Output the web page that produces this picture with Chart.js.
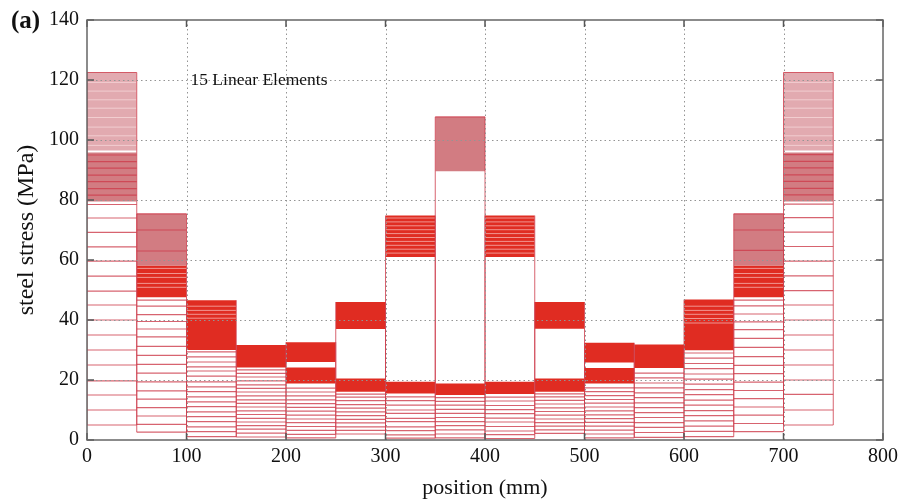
<!DOCTYPE html>
<html>
<head>
<meta charset="utf-8">
<script src="https://cdn.jsdelivr.net/npm/chart.js@4.4.1/dist/chart.umd.min.js"></script>
<style>
  html, body { margin: 0; padding: 0; background: #fff; }
  #wrap { width: 918px; height: 504px; }
</style>
</head>
<body>
<div id="wrap"><canvas id="stress" width="918" height="504"></canvas></div>
<script>
// 15 linear elements, 50 mm each
const elementStart = [0, 50, 100, 150, 200, 250, 300, 350, 400, 450, 500, 550, 600, 650, 700];
const elementLength = 50;

// stress of each computed step, per element (MPa)
const stepStress = [
  [5, 10, 15, 19.7, 25, 30, 35, 40, 45, 49.6, 54.6, 59.6, 64.4, 69.2, 74, 78.5, 81.6, 83.8, 86.1, 88.3, 90.6, 92.8, 95, 122.5],
  [2.6, 5.2, 8, 10.8, 13.6, 16.4, 19.4, 22.3, 25.2, 28.2, 31.2, 34.4, 37, 39.5, 41.8, 44.6, 46.6, 63, 70, 75.4],
  [1.1, 2.8, 4.4, 6.1, 7.8, 9.4, 11.1, 12.7, 14.4, 16.1, 17.7, 19.4, 21.3, 23, 24.4, 26, 27.7, 29.4],
  [1.0, 2.3, 3.6, 4.8, 6.0, 7.2, 8.5, 9.7, 11.0, 12.2, 13.4, 14.7, 16.0, 17.2, 18.4, 19.7, 21.0, 22.2, 23.4],
  [0.7, 1.9, 3.2, 4.5, 5.8, 7.0, 8.3, 9.6, 10.9, 12.1, 13.4, 14.7, 16.0, 17.3],
  [2.0, 3.2, 4.4, 5.7, 6.9, 8.1, 9.4, 10.6, 11.8, 13.1, 14.3, 15.3],
  [0.6, 1.7, 3.1, 4.4, 6.1, 7.2, 8.9, 10, 11.6, 13.1, 14.4],
  [0.7, 2.0, 3.4, 4.8, 6.1, 7.5, 8.9, 10.2, 11.6, 12.9, 14.1, 107.7],
  [0.5, 1.8, 3.0, 4.5, 6.0, 7.3, 8.8, 10.1, 11.5, 13.0, 14.3],
  [2.2, 3.4, 4.6, 5.8, 7.0, 8.3, 9.5, 10.7, 12.0, 13.2, 14.4, 15.4],
  [0.7, 2.0, 3.3, 4.6, 5.9, 7.1, 8.4, 9.7, 11.0, 12.3, 13.5, 14.8, 16.1, 17.4],
  [0.9, 2.5, 4.2, 5.8, 7.5, 9.1, 10.8, 12.4, 14.1, 15.7, 17.4, 19.0, 20.7, 22.3],
  [1.1, 2.9, 4.6, 6.4, 8.1, 9.8, 11.6, 13.3, 15.1, 16.8, 18.6, 20.3, 22.0, 23.8, 25.5, 27.3, 29.0],
  [2.8, 5.5, 8.3, 11.0, 13.8, 16.5, 19.3, 22.1, 24.9, 27.8, 30.9, 33.9, 36.8, 39.4, 42.0, 44.7, 46.6, 63.2, 70, 75.4],
  [5, 10, 15.2, 20, 25, 30, 35, 40, 45, 49.8, 54.7, 59.6, 64.5, 69.3, 74.1, 78.6, 81.7, 83.9, 86.2, 88.4, 90.7, 92.9, 95.1, 122.5]
];

// ranges where the steps are packed so tightly they merge [low, high]
const redBands = [
  [], [[47.6, 58.2]], [[30.0, 46.6]], [[24.2, 31.7]], [[18.8, 24.2], [26.0, 32.6]],
  [[16.1, 20.5], [37.0, 46.0]], [[15.5, 19.4], [61.0, 74.8]], [[15.0, 18.8]],
  [[15.3, 19.4], [61.0, 74.8]], [[16.1, 20.5], [37.1, 46.0]], [[18.8, 24.0], [25.8, 32.4]],
  [[24.0, 31.8]], [[29.9, 46.8]], [[47.6, 58.2]], []
];
const roseBands = [
  [[79.5, 95.8]], [[58.2, 75.4]], [], [], [], [], [], [[89.6, 107.7]],
  [], [], [], [], [], [[58.2, 75.4]], [[79.5, 95.8]]
];
const paleBands = [
  [[96.5, 122.5]], [], [], [], [], [], [], [], [], [], [], [], [], [], [[96.5, 122.5]]
];
// thin gaps between step clusters inside the bands
const gapLines = [
  [98.2, 101.4, 104.3, 107.5, 110.6, 113.4, 116.3, 119.2],
  [50.9, 52.2, 54.2, 55.5, 57.2],
  [40.6, 41.9, 43.2, 44.6],
  [], [], [],
  [62.3, 63.6, 64.9, 66.2, 67.5, 68.8, 70.1, 71.4, 72.7, 74.0],
  [],
  [62.3, 63.6, 64.9, 66.2, 67.5, 68.8, 70.1, 71.4, 72.7, 74.0],
  [], [], [],
  [39.0, 40.5, 41.9, 43.2, 44.6],
  [50.9, 52.2, 54.2, 55.5, 57.2],
  [98.2, 101.4, 104.3, 107.5, 110.6, 113.4, 116.3, 119.2]
];

const xTicks = [0, 100, 200, 300, 400, 500, 600, 700, 800];
const yTicks = [0, 20, 40, 60, 80, 100, 120, 140];

const RED = '#e02c22';
const ROSE = '#d27c82';
const PALE = '#e2aab0';
const LINE = 'rgba(205, 60, 75, 0.8)';
const GAP = 'rgba(255, 235, 235, 0.55)';
const SERIF = '"Liberation Serif", "DejaVu Serif", serif';

// horizontal segments across one element, broken by null points
function segments(x0, x1, values) {
  const pts = [];
  values.forEach(v => pts.push({ x: x0, y: v }, { x: x1, y: v }, { x: x1, y: null }));
  return pts;
}

const datasets = [];
elementStart.forEach((x0, i) => {
  const x1 = x0 + elementLength;
  const addBands = (list, color) => list.forEach(([lo, hi]) => datasets.push({
    data: [{ x: x0, y: hi }, { x: x1, y: hi }],
    fill: { target: { value: lo }, above: color, below: color },
    backgroundColor: color, borderColor: 'transparent', borderWidth: 0, order: 3
  }));
  addBands(paleBands[i], PALE);
  addBands(roseBands[i], ROSE);
  addBands(redBands[i], RED);

  datasets.push({ data: segments(x0, x1, stepStress[i]), borderColor: LINE, borderWidth: 1.2, fill: false, order: 2 });
  if (gapLines[i].length) {
    datasets.push({ data: segments(x0, x1, gapLines[i]), borderColor: GAP, borderWidth: 1, fill: false, order: 1 });
  }

  // element edges span from the lowest to the highest stress
  const all = stepStress[i].concat(redBands[i].flat(), roseBands[i].flat(), paleBands[i].flat());
  const lo = Math.min(...all), hi = Math.max(...all);
  datasets.push({
    data: [{ x: x0, y: lo }, { x: x0, y: hi }, { x: x0, y: null }, { x: x1, y: lo }, { x: x1, y: hi }],
    borderColor: LINE, borderWidth: 1, fill: false, order: 0
  });
});

const framePlugin = {
  id: 'frame',
  afterDatasetsDraw(chart) {
    const { ctx, chartArea: a, scales: { x, y } } = chart;
    const seg = (x0, y0, x1, y1) => { ctx.beginPath(); ctx.moveTo(x0, y0); ctx.lineTo(x1, y1); ctx.stroke(); };
    ctx.save();
    // dotted grid on top of the data
    ctx.strokeStyle = '#949494';
    ctx.lineWidth = 1;
    ctx.setLineDash([1.5, 3]);
    xTicks.slice(1, -1).forEach(v => { const px = Math.round(x.getPixelForValue(v)) + 0.5; seg(px, a.top, px, a.bottom); });
    yTicks.slice(1, -1).forEach(v => { const py = Math.round(y.getPixelForValue(v)) + 0.5; seg(a.left, py, a.right, py); });
    ctx.setLineDash([]);
    // inward tick marks on all four sides
    ctx.strokeStyle = '#555';
    ctx.lineWidth = 1.5;
    xTicks.forEach(v => { const px = x.getPixelForValue(v); seg(px, a.bottom, px, a.bottom - 7); seg(px, a.top, px, a.top + 7); });
    yTicks.forEach(v => { const py = y.getPixelForValue(v); seg(a.left, py, a.left + 7, py); seg(a.right, py, a.right - 7, py); });
    ctx.strokeStyle = '#666';
    ctx.strokeRect(a.left, a.top, a.width, a.height);
    // labels
    ctx.fillStyle = '#111';
    ctx.font = '17.5px ' + SERIF;
    ctx.textBaseline = 'middle';
    ctx.fillText('15 Linear Elements', x.getPixelForValue(104), y.getPixelForValue(120));
    ctx.font = 'bold 25px ' + SERIF;
    ctx.textBaseline = 'alphabetic';
    ctx.fillText('(a)', 11, 28);
    ctx.restore();
  }
};

new Chart(document.getElementById('stress'), {
  type: 'line',
  data: { datasets },
  options: {
    responsive: false,
    animation: false,
    devicePixelRatio: 1,
    spanGaps: false,
    elements: { point: { radius: 0 }, line: { tension: 0 } },
    layout: { padding: { top: 19, right: 35, left: 0, bottom: 0 } },
    plugins: { legend: { display: false }, tooltip: { enabled: false } },
    scales: {
      x: {
        type: 'linear', min: 0, max: 800,
        afterBuildTicks: s => { s.ticks = xTicks.map(v => ({ value: v })); },
        afterFit: s => { s.height = 64; },
        grid: { display: false, drawTicks: false },
        border: { display: false },
        ticks: { color: '#111', font: { family: SERIF, size: 20 }, padding: 5, maxRotation: 0 },
        title: { display: true, text: 'position (mm)', color: '#111', font: { family: SERIF, size: 22 }, padding: { top: 0, bottom: 3 } }
      },
      y: {
        type: 'linear', min: 0, max: 140,
        afterBuildTicks: s => { s.ticks = yTicks.map(v => ({ value: v })); },
        afterFit: s => { s.width = 87; },
        grid: { display: false, drawTicks: false },
        border: { display: false },
        ticks: { color: '#111', font: { family: SERIF, size: 20 }, padding: 8 },
        title: { display: true, text: 'steel stress (MPa)', color: '#111', font: { family: SERIF, size: 24 }, padding: { top: 12, bottom: 0 } }
      }
    }
  },
  plugins: [framePlugin]
});
</script>
</body>
</html>
